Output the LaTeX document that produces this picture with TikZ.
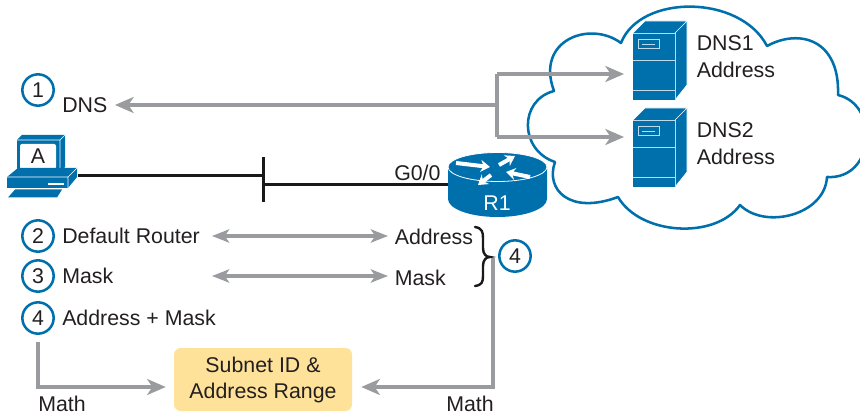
\documentclass[tikz,border=0pt]{standalone}
\usepackage{fontspec}
\setmainfont{Liberation Sans}
\usetikzlibrary{arrows.meta,calc}
\definecolor{ciscoblue}{HTML}{0070AD}
\definecolor{arrowgray}{HTML}{9A9B9E}
\definecolor{boxyellow}{HTML}{FFE299}
\definecolor{inktext}{HTML}{231F20}
\tikzset{
  x=0.75pt,y=-0.75pt,
  lbl/.style={inner sep=0pt,anchor=west,text=inktext,font=\fontsize{16}{19}\selectfont},
  num/.style={circle,draw=ciscoblue,line width=1.9pt,minimum size=23.5pt,inner sep=0pt,text=inktext,font=\fontsize{16}{19}\selectfont},
  grayline/.style={draw=arrowgray,line width=2.38pt},
  grayarrow/.style={grayline,-{Stealth[length=14pt,width=12pt,inset=4pt]}},
  graydouble/.style={grayline,{Stealth[length=13pt,width=10pt,inset=3.5pt]}-{Stealth[length=13pt,width=10pt,inset=3.5pt]}},
  link/.style={draw=black!90,line width=2.1pt},
  arrowwhite/.style={draw=white,line width=3pt,-{Stealth[length=7pt,width=9pt]}},
}
\newcommand{\serverbody}[1]{%
  \begin{scope}[yshift=#1]
  \fill[ciscoblue] (633,33)--(645,21)--(687,21)--(687,85)--(675,100)--(675,33)--cycle;
  \draw[white,line width=0.5pt,line join=round] (633,33)--(645,21)--(687,21)--(675,33);
  \draw[white,line width=0.5pt,line join=round] (687,21)--(687,85)--(675,100);
  \fill[ciscoblue] (633,33) rectangle (675,100);
  \draw[white!75!ciscoblue,line width=0.7pt] (633,33)--(675,33)--(675,100) (633,60)--(675,60) (633,90.5)--(675,90.5);
  \draw[white!75!ciscoblue,line width=0.7pt] (638,39.5) rectangle (659.5,48.5);
  \draw[white!75!ciscoblue,line width=0.7pt] (642,44)--(655,44);
  \end{scope}}
\begin{document}
\begin{tikzpicture}
\useasboundingbox (0,0) rectangle (860,417);
% cloud
\draw[ciscoblue,line width=1.9pt,fill=white,line join=round]
 (621,43) .. controls (640,-6) and (740,-6) .. (767,46)
 .. controls (800,28) and (840,40) .. (838,95)
 .. controls (880,105) and (875,180) .. (827,177)
 .. controls (825,215) and (765,230) .. (740,205)
 .. controls (715,240) and (640,235) .. (618,197)
 .. controls (570,215) and (545,190) .. (555,162)
 .. controls (519,150) and (519,100) .. (554,91)
 .. controls (535,40) and (590,20) .. (621,43) -- cycle;
% servers
\serverbody{0pt}
\serverbody{-65.25pt}
\node[inner sep=0pt,minimum width=31.5pt,minimum height=50.25pt] (dns1) at (654,66.5) {};
\node[inner sep=0pt,minimum width=31.5pt,minimum height=50.25pt] (dns2) at (654,153.5) {};
\node[lbl] (dns1a) at (696.5,43) {DNS1};
\node[lbl] (dns1b) at (696.5,70) {Address};
\node[lbl] (dns2a) at (696.5,130) {DNS2};
\node[lbl] (dns2b) at (696.5,157) {Address};
% PC
\fill[ciscoblue] (17,140)--(22,135)--(65,135)--(65,167)--(60,173)--(17,173)--cycle;
\draw[white,line width=0.4pt] (17,140)--(60,140)--(65,135) (60,140)--(60,173);
\fill[white,rounded corners=1.5pt] (20,144) rectangle (56,169);
\fill[ciscoblue] (7,177)--(18,168)--(77,168)--(77,177)--(68,188)--(7,188)--cycle;
\draw[white,line width=0.4pt] (7,177)--(68,177)--(77,168) (68,177)--(68,188);
\draw[white,line width=0.8pt] (48,184)--(64,184);
\fill[ciscoblue] (8,197.5)--(15,189.5)--(62,189.5)--(57,197.5)--cycle;
\node[inner sep=0pt,text=inktext,font=\fontsize{16}{19}\selectfont] (pcA) at (38,156) {A};
% links
\coordinate (pcport) at (78,175.6);
\coordinate (lanT) at (263.4,157);
\coordinate (lanB) at (263.4,202);
\coordinate (lanP) at (263.4,175.6);
\coordinate (lanQ) at (263.4,184.5);
\coordinate (rport) at (449,184.5);
\draw[link] (pcport) -- (lanP);
\draw[link] (lanT) -- (lanB);
\draw[link] (lanQ) -- (rport);
% router
\fill[ciscoblue] (448,167) -- (448,199) arc[start angle=180,end angle=360,x radius=49.5,y radius=-18] -- (547,167) -- cycle;
\fill[ciscoblue,draw=white,line width=0.6pt] (497.5,167) ellipse[x radius=49.5,y radius=-14.5];
\draw[arrowwhite] (456,163)--(490,167);
\draw[arrowwhite] (499,165)--(515,156);
\draw[arrowwhite] (530,177)--(506,172);
\draw[arrowwhite] (491,175)--(478,185);
\node[inner sep=0pt,text=white,font=\fontsize{16}{19}\selectfont] (r1) at (497,203) {R1};
\node[lbl] (g00) at (394,173) {G0/0};
% numbered labels
\node[num] (n1) at (38,90) {1};
\node[lbl] (ldns) at (62,105) {DNS};
\node[num] (n2) at (38,236) {2};
\node[lbl] (ldr) at (62,236) {Default Router};
\node[num] (n3) at (38,276) {3};
\node[lbl] (lmask) at (62,276) {Mask};
\node[num] (n4) at (38,318) {4};
\node[lbl] (lam) at (62,318) {Address + Mask};
\node[lbl] (raddr) at (394.5,237) {Address};
\node[lbl] (rmask) at (394.5,278) {Mask};
\node[num] (n4b) at (515,256) {4};
% DNS arrows
\coordinate (hub) at (497,105);
\coordinate (hubT) at (497,74);
\coordinate (hubB) at (497,137);
\draw[grayline] (hubT) -- (hubB);
\draw[grayarrow] (hub) -- (ldns.east -| 115,105);
\draw[grayarrow] (hubT) -- (624,74);
\draw[grayarrow] (hubB) -- (624,137);
% double arrows
\coordinate (d2a) at (212,236);
\coordinate (d2b) at (388,236);
\coordinate (d3a) at (212,276);
\coordinate (d3b) at (388,276);
\draw[graydouble] (d2a) -- (d2b);
\draw[graydouble] (d3a) -- (d3b);
% brace
\draw[black!90,line width=1.8pt,line cap=round] (475,227) .. controls (482,228) and (483,232) .. (483,238)
 -- (483,248) .. controls (483,254) and (486,257) .. (490,257)
 .. controls (486,257) and (483,260) .. (483,266) -- (483,276) .. controls (483,282) and (482,285) .. (475,286);
% subnet box
\node[fill=boxyellow,rounded corners=5pt,minimum width=133.5pt,minimum height=47.25pt,inner sep=0pt,align=center,text=inktext,font=\fontsize{16}{19.5}\selectfont] (subnet) at (263,379.5) {Subnet ID \&\\Address Range};
% math arrows
\coordinate (mL) at (38,342);
\coordinate (mLc) at (38,387);
\coordinate (mR) at (493,258);
\coordinate (mRc) at (493,387);
\draw[grayarrow] (mL) -- (mLc) -- ($(subnet.west |- mLc)+(-8,0)$);
\draw[grayarrow] (mR) -- (mRc) -- ($(subnet.east |- mRc)+(9,0)$);
\node[lbl] (mathL) at (38,404) {Math};
\node[lbl] (mathR) at (446,404) {Math};
\end{tikzpicture}
\end{document}
